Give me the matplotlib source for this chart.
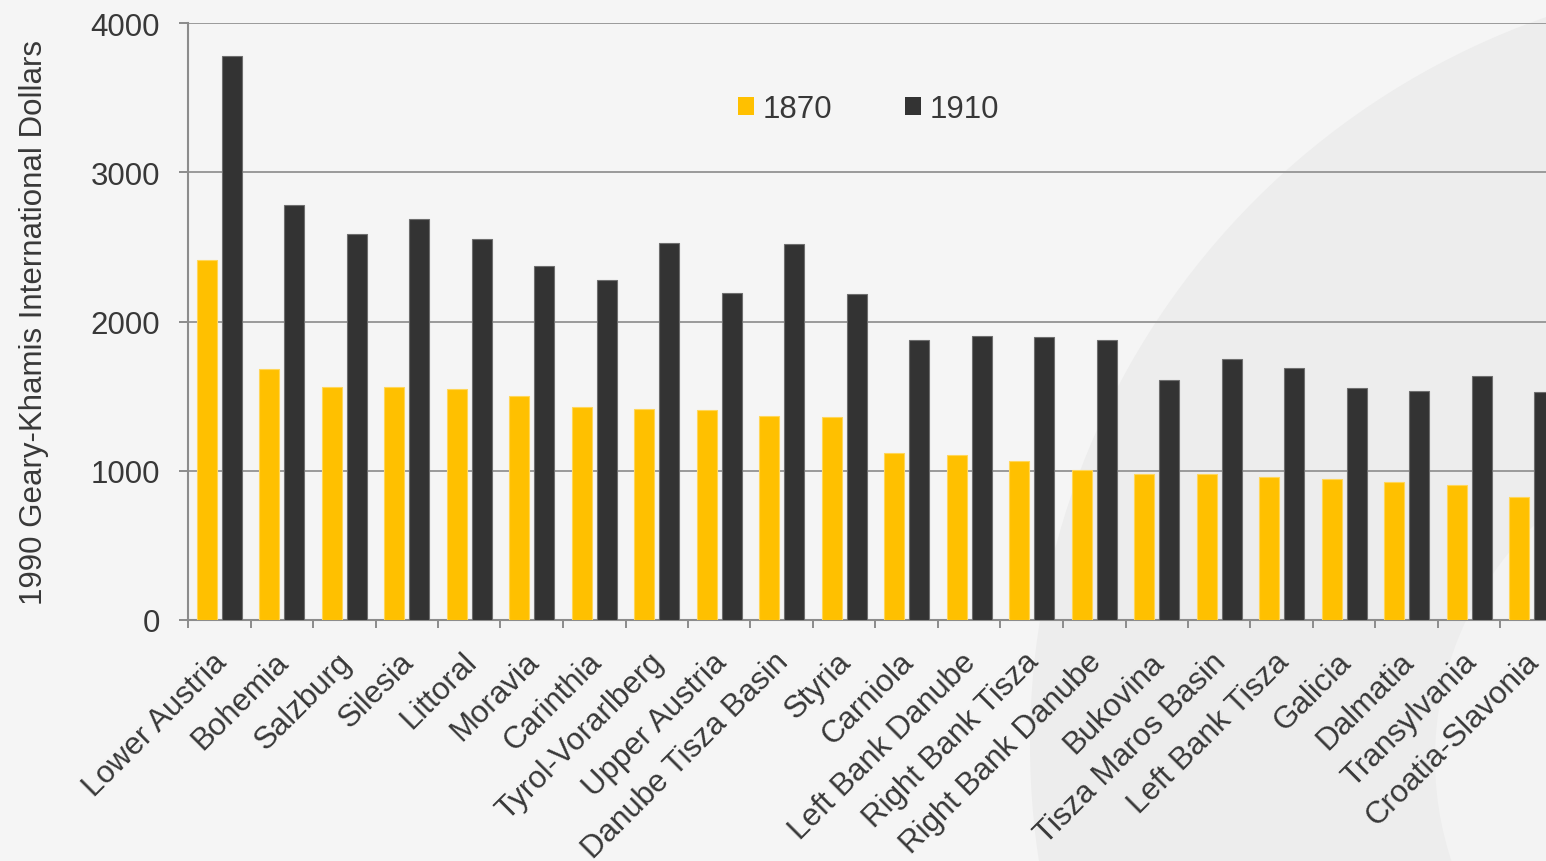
import numpy as np
import matplotlib
matplotlib.use('Agg')
import matplotlib.pyplot as plt
import matplotlib.transforms as mtransforms
from matplotlib.patches import Circle, Patch
from matplotlib.ticker import FixedLocator, NullFormatter

plt.rcParams['font.family'] = ['Liberation Sans', 'DejaVu Sans']

# GDP per capita by region, 1990 Geary-Khamis dollars
regions = ['Lower Austria', 'Bohemia', 'Salzburg', 'Silesia', 'Littoral', 'Moravia',
           'Carinthia', 'Tyrol-Vorarlberg', 'Upper Austria', 'Danube Tisza Basin', 'Styria',
           'Carniola', 'Left Bank Danube', 'Right Bank Tisza', 'Right Bank Danube', 'Bukovina',
           'Tisza Maros Basin', 'Left Bank Tisza', 'Galicia', 'Dalmatia', 'Transylvania',
           'Croatia-Slavonia']
gdp_1870 = [2410, 1682, 1561, 1559, 1545, 1500, 1425, 1411, 1405, 1369, 1362,
            1119, 1105, 1067, 1007, 979, 976, 956, 943, 922, 902, 826]
gdp_1910 = [3777, 2782, 2588, 2684, 2554, 2369, 2279, 2527, 2190, 2520, 2183,
            1873, 1900, 1896, 1876, 1611, 1746, 1686, 1554, 1532, 1632, 1525]
yticks = [0, 1000, 2000, 3000, 4000]

W, H = 1546, 862
fig = plt.figure(figsize=(W / 100, H / 100), dpi=100, facecolor='#f5f5f5')

# slide background with the soft circles on the right
bg = fig.add_axes([0, 0, 1, 1], zorder=0)
bg.set_xlim(0, W)
bg.set_ylim(H, 0)
bg.axis('off')
bg.add_patch(Circle((1800, 745), 770, facecolor='#ededed', edgecolor='none'))
bg.add_patch(Circle((1760, 760), 325, facecolor='#f3f3f3', edgecolor='none'))

# plot area (runs past the right edge of the slide)
ax = fig.add_axes([188 / W, 241 / H, 1375 / W, 597 / H], zorder=1)
ax.set_facecolor('none')

x = np.arange(len(regions))
bw = 0.32
ax.bar(x - 0.2, gdp_1870, bw, color='#FFC000', edgecolor='#FFD659', linewidth=0.8, zorder=3)
ax.bar(x + 0.2, gdp_1910, bw, color='#333333', edgecolor='#6e6e6e', linewidth=0.8, zorder=3)

ax.set_xlim(-0.5, len(regions) - 0.5)
ax.set_ylim(0, 4000)
ax.set_yticks(yticks)
ax.yaxis.grid(True, color='#9a9a9a', linewidth=1.4)
ax.set_axisbelow(True)

for s in ['top', 'right']:
    ax.spines[s].set_visible(False)
for s in ['left', 'bottom']:
    ax.spines[s].set_color('#8c8c8c')
    ax.spines[s].set_linewidth(1.5)

txt = '#383838'
ax.tick_params(axis='y', length=6.5, width=1.4, color='#8c8c8c', pad=13.5,
               labelsize=22.5, labelcolor=txt)

# category labels at bar centres, tick marks on the category borders
ax.set_xticks(x)
ax.set_xticklabels(regions, rotation=45, ha='right', va='top',
                   rotation_mode='anchor', fontsize=22.5, color=txt)
ax.tick_params(axis='x', which='major', length=0, pad=19)
shift = mtransforms.ScaledTranslation(-8 / 100, 0, fig.dpi_scale_trans)
for lab in ax.get_xticklabels():
    lab.set_transform(lab.get_transform() + shift)
ax.xaxis.set_minor_locator(FixedLocator(np.arange(len(regions) + 1) - 0.5))
ax.xaxis.set_minor_formatter(NullFormatter())
ax.tick_params(axis='x', which='minor', length=6, width=1.4, color='#8c8c8c')

ax.set_ylabel('1990 Geary-Khamis International Dollars', fontsize=22.5, color=txt)
ax.yaxis.set_label_coords(-(188 - 49) / 1375, 0.5)

handles = [Patch(facecolor='#FFC000', edgecolor='none', label='1870'),
           Patch(facecolor='#333333', edgecolor='none', label='1910')]
fig.legend(handles=handles, loc='center left', bbox_to_anchor=(738 / W, 1 - 110 / H),
           ncol=2, frameon=False, fontsize=22.5, handlelength=0.52, handleheight=0.52,
           handletextpad=0.28, columnspacing=2.3, borderpad=0, borderaxespad=0,
           labelcolor=txt)

fig.savefig('out.png', dpi=100, facecolor=fig.get_facecolor())
